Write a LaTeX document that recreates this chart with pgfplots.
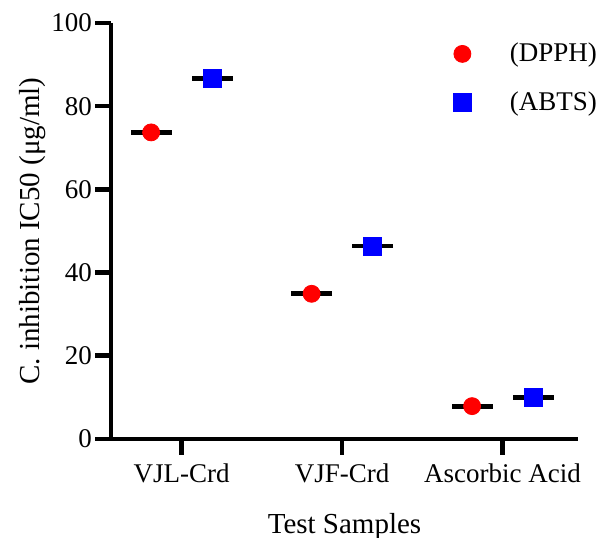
\documentclass[border=0pt]{standalone}
\usepackage{fontspec}
\setmainfont{Liberation Serif}
\usepackage{pgfplots}
\pgfplotsset{compat=1.18}
\begin{document}
\begin{tikzpicture}
\begin{axis}[
    scale only axis,
    width=233.5pt, height=208pt,
    xmin=-0.44, xmax=2.47,
    ymin=0, ymax=100,
    axis lines*=left,
    axis line style={line width=2.3pt},
    xtick={0,1,2},
    xticklabels={VJL-Crd,VJF-Crd,Ascorbic Acid},
    ytick={0,20,40,60,80,100},
    tick align=outside,
    major tick length=8pt,
    tick style={line width=2.3pt, black},
    ticklabel style={font=\fontsize{13.5}{15}\selectfont},
    yticklabel style={xshift=2pt},
    xticklabel style={yshift=-1pt},
    label style={font=\fontsize{14.5}{16}\selectfont},
    /pgf/number format/assume math mode=true,
    xlabel={Test Samples},
    ylabel={C. inhibition IC50 (μg/ml)},
    xlabel style={yshift=-8pt},
    ylabel style={yshift=-4pt},
    legend style={draw=none, fill=none, at={(0.7036,0.972)}, anchor=north west,
        font=\fontsize{13.5}{15}\selectfont, row sep=9.5pt},
    legend cell align=left,
    legend image code/.code={\draw[#1] plot coordinates {(8pt,0pt)}; \path (0pt,0pt) (29.5pt,0pt);},
]
% mean lines
\addplot[only marks, mark=-, mark size=10.25pt, line width=2.4pt, black, forget plot]
  coordinates {(-0.19,73.7) (0.81,34.9) (1.81,7.9)};
\addplot[only marks, mark=-, mark size=10.25pt, line width=2.4pt, black, forget plot]
  coordinates {(0.19,86.6) (1.19,46.4) (2.19,9.9)};
% points
\addplot[only marks, mark=*, mark size=4.25pt, red, mark options={draw=red, fill=red}]
  coordinates {(-0.19,73.7) (0.81,34.9) (1.81,7.9)};
\addlegendentry{(DPPH)}
\addplot[only marks, mark=square*, mark size=4.5pt, blue, mark options={draw=blue, fill=blue}]
  coordinates {(0.19,86.6) (1.19,46.4) (2.19,9.9)};
\addlegendentry{(ABTS)}
\end{axis}
\pgfresetboundingbox
\path[use as bounding box] ([shift={(-55.5pt,-49.5pt)}]current axis.south west)
  rectangle ([shift={(9.5pt,11.5pt)}]current axis.north east);
\end{tikzpicture}
\end{document}
